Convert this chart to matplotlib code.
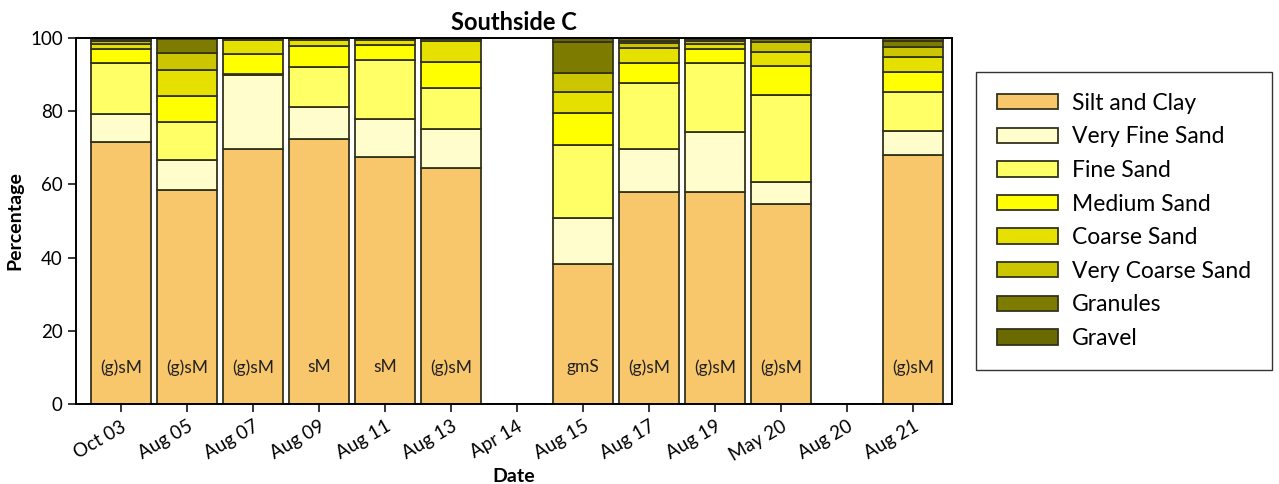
import matplotlib
matplotlib.use("Agg")
import matplotlib.pyplot as plt
import numpy as np


DATES = ["Oct 03", "Aug 05", "Aug 07", "Aug 09", "Aug 11", "Aug 13", "Apr 14",
         "Aug 15", "Aug 17", "Aug 19", "May 20", "Aug 20", "Aug 21"]
CLASSES = ["Silt and Clay", "Very Fine Sand", "Fine Sand", "Medium Sand",
           "Coarse Sand", "Very Coarse Sand", "Granules", "Gravel"]
COLORS = ["#F9C76B", "#FFFDCB", "#FFFF66", "#FFFF00",
          "#E5E000", "#CBC600", "#7D7B00", "#6B6A00"]

# percent of sample in each size class, one list per class (blank surveys are 0)
silt_clay = [71.6, 58.6, 69.6, 72.3, 67.5, 64.5, 0, 38.3, 58.0, 58.0, 54.6, 0, 68.0]
very_fine = [7.6, 8.0, 20.3, 8.9, 10.5, 10.6, 0, 12.6, 11.8, 16.4, 6.1, 0, 6.7]
fine = [13.9, 10.4, 0.3, 10.8, 16.0, 11.2, 0, 19.9, 17.8, 18.9, 23.7, 0, 10.6]
medium = [3.8, 7.2, 5.4, 5.9, 4.2, 7.1, 0, 8.8, 5.7, 3.6, 7.9, 0, 5.3]
coarse = [1.4, 7.1, 3.8, 1.5, 1.2, 5.9, 0, 5.6, 3.9, 1.5, 3.9, 0, 4.1]
very_coarse = [1.0, 4.7, 0.4, 0.4, 0.4, 0.4, 0, 5.3, 1.3, 0.8, 2.6, 0, 2.9]
granules = [0.4, 3.6, 0.2, 0.2, 0.2, 0.3, 0, 8.4, 0.8, 0.5, 0.8, 0, 1.6]
gravel = [0.3, 0.4, 0.0, 0.0, 0.0, 0.0, 0, 1.1, 0.7, 0.3, 0.4, 0, 0.8]

SEDIMENT_CLASS = ["(g)sM", "(g)sM", "(g)sM", "sM", "sM", "(g)sM", "",
                  "gmS", "(g)sM", "(g)sM", "(g)sM", "", "(g)sM"]

layers = [silt_clay, very_fine, fine, medium, coarse, very_coarse, granules, gravel]

plt.rcParams.update({
    "font.family": ["Lato", "DejaVu Sans"],
    "font.size": 13,
    "axes.linewidth": 1.4,
})

fig = plt.figure(figsize=(12.79, 4.84), dpi=100, facecolor="white")
ax = fig.add_axes([0.0594, 0.1653, 0.6849, 0.7562])

x = np.arange(len(DATES))
bottom = np.zeros(len(DATES))
for name, color, values in zip(CLASSES, COLORS, layers):
    values = np.array(values, dtype=float)
    ax.bar(x, values, width=0.9, bottom=bottom, color=color,
           edgecolor="#33331c", linewidth=1.3, label=name)
    bottom += values

for xi, label in zip(x, SEDIMENT_CLASS):
    ax.text(xi, 10, label, ha="center", va="center", fontsize=12.5, color="#222222")

ax.set_xlim(-0.68, 12.59)
ax.set_ylim(0, 100)
ax.set_yticks([0, 20, 40, 60, 80, 100])
ax.set_xticks(x)
ax.set_xticklabels(DATES, rotation=30, ha="right", rotation_mode="anchor")
ax.tick_params(axis="both", direction="out", length=6, width=1.1, labelsize=13.5)
ax.tick_params(axis="x", pad=4)

ax.set_title("Southside C", fontsize=17, fontweight="bold", pad=6)
ax.set_xlabel("Date", fontsize=14, fontweight="bold", labelpad=3)
ax.set_ylabel("Percentage", fontsize=14, fontweight="bold", labelpad=5)

leg = fig.legend(loc="upper left", bbox_to_anchor=(0.763, 0.851),
                 fontsize=16.5, frameon=True, fancybox=False, edgecolor="black",
                 handlelength=2.7, handleheight=0.65, handletextpad=0.6,
                 labelspacing=0.55, borderpad=0.9, borderaxespad=0.0)
leg.get_frame().set_linewidth(1.0)

fig.savefig("out.png", dpi=100, facecolor="white")
